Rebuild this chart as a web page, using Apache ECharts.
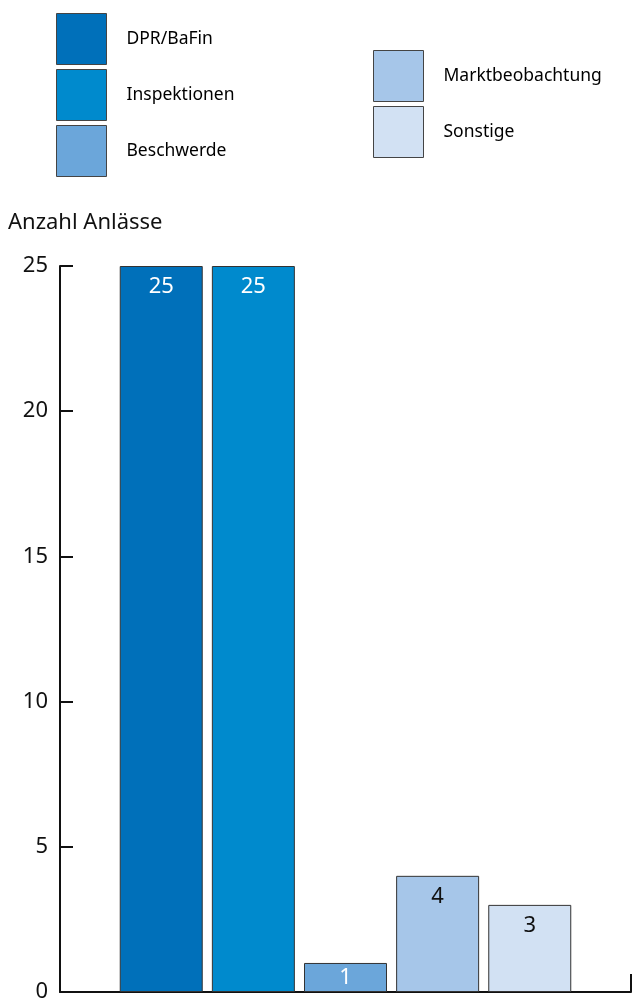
<!DOCTYPE html>
<html>
<head>
<meta charset="utf-8">
<script src="https://cdn.jsdelivr.net/npm/echarts@6/dist/echarts.min.js"></script>
<style>
  html, body { margin: 0; padding: 0; background: #fff; }
  #chart { width: 633px; height: 1003px; }
</style>
</head>
<body>
<div id="chart"></div>
<script>
// Anlässe der Prüfungen, nach Herkunft
const seriesNames = ['DPR/BaFin', 'Inspektionen', 'Beschwerde', 'Marktbeobachtung', 'Sonstige'];
const seriesValues = [25, 25, 1, 4, 3];
const seriesColors = ['#0070BA', '#008ACD', '#6BA6DA', '#A6C6E9', '#D2E1F3'];
const labelColors = ['#ffffff', '#ffffff', '#ffffff', '#111111', '#111111'];
const categories = [''];
const yTicks = { min: 0, max: 25, interval: 5 };

const FONT = 'Noto Sans';
const chart = echarts.init(document.getElementById('chart'));

const series = seriesNames.map((name, i) => ({
  name: name,
  type: 'bar',
  data: [seriesValues[i]],
  barWidth: 83,
  barGap: '11%',
  itemStyle: { color: seriesColors[i], borderColor: '#333', borderWidth: 1 },
  label: {
    show: true,
    position: seriesValues[i] < 2 ? 'inside' : 'insideTop',
    distance: 10,
    color: labelColors[i],
    fontFamily: FONT,
    fontSize: 22
  }
}));

const legendCommon = {
  orient: 'vertical',
  icon: 'rect',
  padding: 0,
  itemWidth: 50,
  itemHeight: 51,
  itemGap: 4,
  selectedMode: false,
  itemStyle: { borderColor: '#444', borderWidth: 1 },
  textStyle: { fontFamily: FONT, fontSize: 17.5, color: '#000', padding: [0, 0, 0, 15] }
};

chart.setOption({
  animation: false,
  title: {
    text: 'Anzahl Anlässe',
    left: 8,
    top: 212,
    padding: 0,
    textStyle: { fontFamily: FONT, fontSize: 22, fontWeight: 'normal', color: '#111' }
  },
  legend: [
    Object.assign({}, legendCommon, { left: 56, top: 13, data: seriesNames.slice(0, 3) }),
    Object.assign({}, legendCommon, { left: 373, top: 50, data: seriesNames.slice(3) })
  ],
  grid: { left: 60, right: 2, top: 266, bottom: 11, containLabel: false },
  xAxis: {
    type: 'category',
    data: categories,
    axisLine: { lineStyle: { color: '#111', width: 2 } },
    axisTick: { show: true, interval: 0, alignWithLabel: false, inside: true, length: 18, lineStyle: { color: '#111', width: 2 } },
    axisLabel: { show: false }
  },
  yAxis: {
    type: 'value',
    min: yTicks.min,
    max: yTicks.max,
    interval: yTicks.interval,
    axisLine: { show: true, lineStyle: { color: '#111', width: 2 } },
    axisTick: { show: true, inside: true, length: 13, lineStyle: { color: '#111', width: 2 } },
    axisLabel: { fontFamily: FONT, fontSize: 22, color: '#111', margin: 12 },
    splitLine: { show: false }
  },
  series: series
});
</script>
</body>
</html>
